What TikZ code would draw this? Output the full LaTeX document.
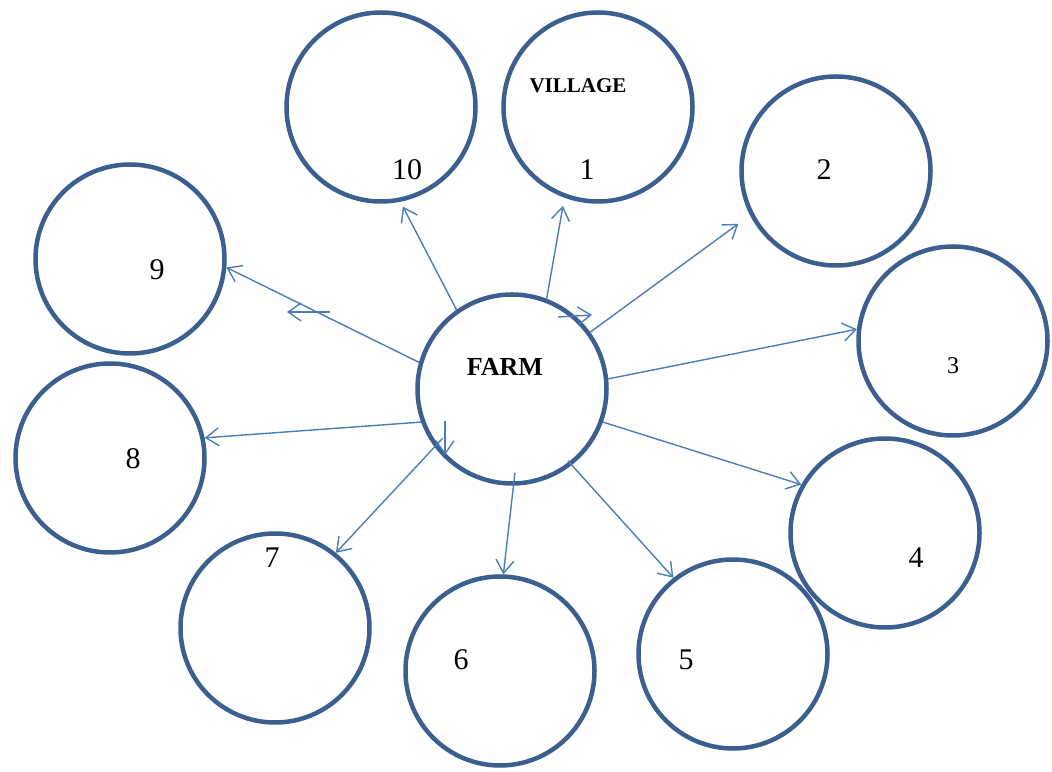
\documentclass[tikz,border=0pt]{standalone}
\usepackage{fontspec}
\setmainfont{Liberation Serif}
\usetikzlibrary{arrows.meta, positioning, calc}

\definecolor{ringblue}{HTML}{3B5F8E}
\definecolor{arrowblue}{HTML}{4A7EBB}

\tikzset{
    ring/.style={circle, draw=ringblue, line width=4.5pt, minimum size=189pt, inner sep=0pt},
    num/.style={inner sep=0pt, font=\fontsize{30}{36}\selectfont},
    link/.style={draw=arrowblue, line width=1.4pt, -{Straight Barb[length=13pt,width=18pt]}}
}

\begin{document}
\begin{tikzpicture}[x=1pt, y=1pt]
            \useasboundingbox (0,0) rectangle (1052,771);
            % circles
            \node[ring] (farm) at (512,382) {};
            \node[ring] (c1) at (598,664) {};
            \node[ring] (c2) at (836,600) {};
            \node[ring] (c3) at (953,430) {};
            \node[ring] (c4) at (885,238) {};
            \node[ring] (c5) at (733,117) {};
            \node[ring] (c6) at (500,100) {};
            \node[ring] (c7) at (275,143) {};
            \node[ring] (c8) at (110,313) {};
            \node[ring] (c9) at (130,512) {};
            \node[ring] (c10) at (381,664) {};
            % texts
            \node[inner sep=0pt, font=\fontsize{26}{30}\selectfont\bfseries] (farmtext) at (505,404) {FARM};
            \node[inner sep=0pt, font=\fontsize{21}{25}\selectfont\bfseries] (villagetext) at (578,685) {VILLAGE};
            \node[num] (t1) at (587,601) {1};
            \node[num] (t2) at (824,601) {2};
            \node[inner sep=0pt, font=\fontsize{24}{28}\selectfont] (t3) at (953,405) {3};
            \node[num] (t4) at (916,213) {4};
            \node[num] (t5) at (686,111) {5};
            \node[num] (t6) at (461,111) {6};
            \node[num] (t7) at (272,213) {7};
            \node[num] (t8) at (133,312) {8};
            \node[num] (t9) at (157,501) {9};
            \node[num] (t10) at (407,601) {10};
            % arrows out of the farm
            \draw[link] (farm.125) -- ($(c10.center)+(-77.6:102)$);
            \draw[link] (farm.69.4) -- ($(c1.center)+(-109.5:105)$);
            \draw[link] (farm.36) -- ($(c2.center)+(-151.6:111)$);
            \draw[link] (farm.6.9) -- (c3.173.6);
            \draw[link] (farm.-20.9) -- (c4.150.8);
            \draw[link] ($(farm.center)+(-52.1:91)$) -- (c5.128.9);
            \draw[link] ($(farm.center)+(-88:84)$) -- (c6.88.8);
            \draw[link] ($(farm.center)+(-144.6:85)$) -- (c7.51.3);
            \draw[link] (farm.-160) -- (c8.12.3);
            \draw[link] (farm.164.4) -- (c9.-5.4);
            % loose arrows
            \coordinate (a1) at (330,459);
            \coordinate (a2) at (287,459);
            \coordinate (b1) at (558,454);
            \coordinate (b2) at (592,456);
            \coordinate (d1) at (445,350);
            \coordinate (d2) at (445,316);
            \draw[link] (a1) -- (a2);
            \draw[link] (b1) -- (b2);
            \draw[link] (d1) -- (d2);
        \end{tikzpicture}
\end{document}
